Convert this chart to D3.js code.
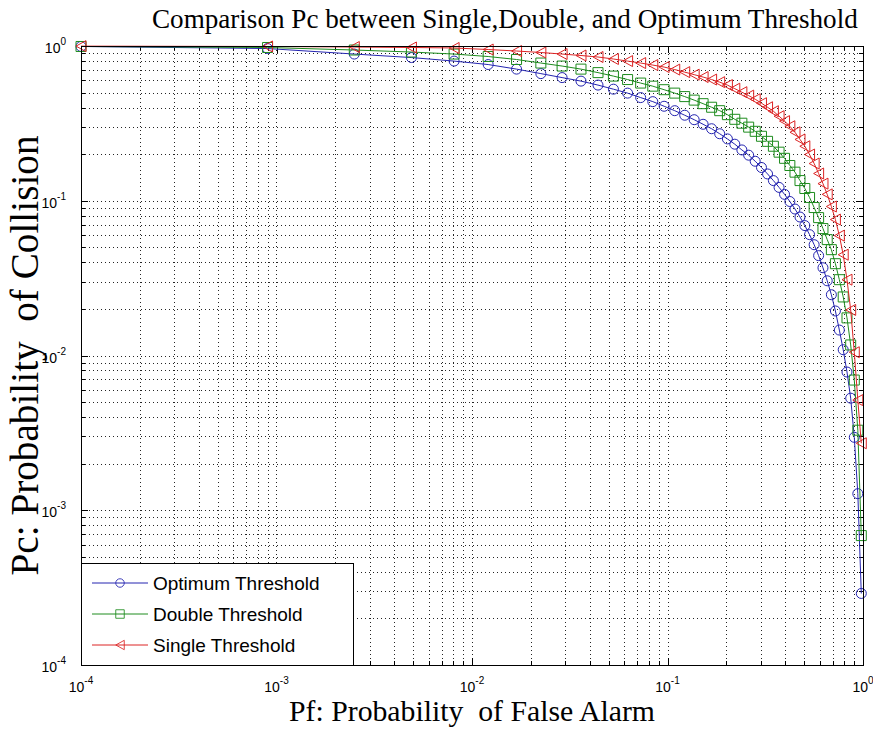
<!DOCTYPE html>
<meta charset="utf-8">
<style>
body { margin: 0; background: #fff; }
.axis line { stroke: #000; shape-rendering: crispEdges; }
.axis .domain { display: none; }
.grid line { stroke: #000; stroke-width: 1; stroke-dasharray: 1,3; shape-rendering: crispEdges; opacity: 0.85; }
.frame { fill: none; stroke: #000; stroke-width: 1; shape-rendering: crispEdges; }
.ticklab { font-family: "Liberation Sans", Arial, sans-serif; font-size: 14px; fill: #000; }
.legend text { font-family: "Liberation Sans", Arial, sans-serif; font-size: 19px; fill: #000; }
.label { font-family: "Liberation Serif", "DejaVu Serif", serif; fill: #000; white-space: pre; }
</style>
<svg class="chart"></svg>
<script src="https://d3js.org/d3.v7.min.js"></script>
<script>

// Pf values
var pf = [0.0001, 0.0009, 0.0025, 0.0049, 0.0081, 0.0121, 0.0169, 0.0225, 0.0289, 0.0361,
          0.0441, 0.0529, 0.0625, 0.0729, 0.0841, 0.0961, 0.1089, 0.1225, 0.1369, 0.1521,
          0.1681, 0.1849, 0.2025, 0.2209, 0.2401, 0.2601, 0.2809, 0.3025, 0.3249, 0.3481,
          0.3721, 0.3969, 0.4225, 0.4489, 0.4761, 0.5041, 0.5329, 0.5625, 0.5929, 0.6241,
          0.6561, 0.6889, 0.7225, 0.7569, 0.7921, 0.8281, 0.8649, 0.9025, 0.9409, 0.9801];

var pcOptimum = [0.993, 0.963, 0.887, 0.842, 0.799, 0.759, 0.709, 0.663, 0.625, 0.593,
                 0.559, 0.526, 0.496, 0.464, 0.437, 0.408, 0.382, 0.357, 0.334, 0.312,
                 0.292, 0.271, 0.251, 0.232, 0.213, 0.197, 0.180, 0.164, 0.149, 0.135,
                 0.122, 0.110, 0.0989, 0.0884, 0.0785, 0.0691, 0.0604, 0.0520, 0.0442, 0.0369,
                 0.0304, 0.0247, 0.0194, 0.0146, 0.0109, 0.00782, 0.00530, 0.00296, 0.00128, 0.00029];

var pcDouble = [0.993, 0.978, 0.942, 0.914, 0.887, 0.855, 0.818, 0.776, 0.742, 0.709,
                0.673, 0.639, 0.607, 0.576, 0.550, 0.522, 0.496, 0.471, 0.447, 0.424,
                0.402, 0.382, 0.360, 0.336, 0.317, 0.299, 0.281, 0.261, 0.242, 0.225,
                0.206, 0.188, 0.169, 0.153, 0.135, 0.120, 0.105, 0.0904, 0.0778, 0.0661,
                0.0561, 0.0483, 0.0392, 0.0309, 0.0239, 0.0175, 0.0117, 0.00694, 0.00329, 0.000686];

var pcSingle = [0.998, 0.993, 0.985, 0.978, 0.971, 0.949, 0.928, 0.908, 0.887, 0.868,
                0.849, 0.824, 0.799, 0.776, 0.753, 0.731, 0.704, 0.678, 0.653, 0.630,
                0.607, 0.584, 0.559, 0.530, 0.503, 0.478, 0.453, 0.427, 0.402, 0.379,
                0.352, 0.327, 0.303, 0.277, 0.249, 0.225, 0.199, 0.174, 0.150, 0.129,
                0.110, 0.0918, 0.0756, 0.0595, 0.0448, 0.0309, 0.0197, 0.0105, 0.00515, 0.00271];

var seriesNames = ["Optimum Threshold", "Double Threshold", "Single Threshold"];
var tickExponents = [-4, -3, -2, -1, 0];

var titleText = "Comparison Pc between Single,Double, and Optimum Threshold";
var xLabelText = "Pf: Probability  of False Alarm";
var yLabelText = "Pc: Probability  of Collision";

var margin = {top: 46, right: 10, bottom: 68, left: 81},
    width = 873 - margin.left - margin.right,
    height = 733 - margin.top - margin.bottom;

var svg = d3.select(".chart").attr("width", 873).attr("height", 733);
svg.append("rect").attr("width", 873).attr("height", 733).attr("fill", "#fff");

var chart = svg.append("g")
    .attr("transform", "translate(" + margin.left + "," + margin.top + ")");

var x = d3.scaleLog().domain([1e-4, 1]).range([0, width]);
var y = d3.scaleLog().domain([1e-4, 1]).range([height, 0]);

var allTicks = x.ticks();
var majorTicks = tickExponents.map(function(e) { return Math.pow(10, e); });
var minorTicks = allTicks.filter(function(d) {
  var l = Math.log10(d);
  return Math.abs(l - Math.round(l)) > 1e-6;
});
var innerTicks = allTicks.filter(function(d) { return d > 1.001e-4 && d < 0.999; });

// dotted grid on every decade and sub-decade
var grid = chart.append("g").attr("class", "grid");
grid.selectAll(".gx").data(innerTicks).enter().append("line")
    .attr("x1", function(d) { return Math.round(x(d)) + 0.5; })
    .attr("x2", function(d) { return Math.round(x(d)) + 0.5; })
    .attr("y1", 0).attr("y2", height);
grid.selectAll(".gy").data(innerTicks).enter().append("line")
    .attr("y1", function(d) { return Math.round(y(d)) + 0.5; })
    .attr("y2", function(d) { return Math.round(y(d)) + 0.5; })
    .attr("x1", 0).attr("x2", width);

// inward ticks on all four sides
function addTicks(axisFn, scale, vals, len, tr) {
  chart.append("g").attr("class", "axis").attr("transform", tr)
      .call(axisFn(scale).tickValues(vals).tickSize(-len).tickFormat(""));
}
addTicks(d3.axisBottom, x, majorTicks, 7, "translate(0," + height + ")");
addTicks(d3.axisBottom, x, minorTicks, 4, "translate(0," + height + ")");
addTicks(d3.axisTop, x, majorTicks, 7, "translate(0,0)");
addTicks(d3.axisTop, x, minorTicks, 4, "translate(0,0)");
addTicks(d3.axisLeft, y, majorTicks, 7, "translate(0,0)");
addTicks(d3.axisLeft, y, minorTicks, 4, "translate(0,0)");
addTicks(d3.axisRight, y, majorTicks, 7, "translate(" + width + ",0)");
addTicks(d3.axisRight, y, minorTicks, 4, "translate(" + width + ",0)");

// tick labels 10^n
var xl = chart.append("g").selectAll("text").data(majorTicks).enter().append("text")
    .attr("class", "ticklab")
    .attr("x", function(d) { return x(d); })
    .attr("y", height + 27)
    .attr("text-anchor", "middle");
xl.append("tspan").text("10");
xl.append("tspan").attr("dy", -8).attr("font-size", "10px")
    .text(function(d) { return Math.round(Math.log10(d)); });

var yl = chart.append("g").selectAll("text").data(majorTicks).enter().append("text")
    .attr("class", "ticklab")
    .attr("x", -15)
    .attr("y", function(d) { return y(d) + 7; })
    .attr("text-anchor", "end");
yl.append("tspan").text("10");
yl.append("tspan").attr("dy", -8).attr("font-size", "10px")
    .text(function(d) { return Math.round(Math.log10(d)); });

// curves
var series = [
  {name: seriesNames[0], values: pcOptimum, color: "#2424b0", marker: "circle"},
  {name: seriesNames[1], values: pcDouble, color: "#1e8c1e", marker: "square"},
  {name: seriesNames[2], values: pcSingle, color: "#dc2424", marker: "tri"}
];

function markerPath(type) {
  if (type === "circle") return "M5,0A5,5 0 1,1 -5,0A5,5 0 1,1 5,0Z";
  if (type === "square") return "M-5,-5H5V5H-5Z";
  return "M-5,0L5,-5.5L5,5.5Z";
}

var line = d3.line()
    .x(function(d) { return x(d[0]); })
    .y(function(d) { return y(d[1]); });

var plot = chart.append("g");
series.forEach(function(s) {
  var pts = pf.map(function(p, i) { return [p, s.values[i]]; });
  plot.append("path").datum(pts)
      .attr("d", line)
      .attr("fill", "none").attr("stroke", s.color).attr("stroke-width", 1);
  plot.selectAll(".m-" + s.marker).data(pts).enter().append("path")
      .attr("class", "m-" + s.marker)
      .attr("transform", function(d) { return "translate(" + x(d[0]) + "," + y(d[1]) + ")"; })
      .attr("d", markerPath(s.marker))
      .attr("fill", "none").attr("stroke", s.color).attr("stroke-width", 1);
});

// legend in the lower left corner
var legend = chart.append("g").attr("class", "legend")
    .attr("transform", "translate(0," + (height - 102) + ")");
legend.append("rect").attr("width", 272).attr("height", 102)
    .attr("fill", "#fff").attr("stroke", "#000").attr("shape-rendering", "crispEdges");
var item = legend.selectAll(".item").data(series).enter().append("g")
    .attr("transform", function(d, i) { return "translate(0," + (20 + i * 31) + ")"; });
item.append("line").attr("x1", 11).attr("x2", 67)
    .attr("stroke", function(d) { return d.color; });
item.append("path").attr("transform", "translate(39,0) scale(0.85)")
    .attr("d", function(d) { return markerPath(d.marker); })
    .attr("fill", "none").attr("stroke", function(d) { return d.color; });
item.append("text").attr("x", 72).attr("dy", "0.36em").text(function(d) { return d.name; });

chart.append("rect").attr("class", "frame").attr("width", width).attr("height", height);

// title and axis labels
function fitWidth(sel, target) {
  var w = sel.node().getComputedTextLength();
  var fs = parseFloat(sel.attr("font-size"));
  sel.attr("font-size", (fs * target / w).toFixed(2) + "px");
}

var title = svg.append("text").attr("class", "label")
    .attr("x", 152).attr("y", 28).attr("font-size", "24px").text(titleText);
fitWidth(title, 706);

var xLab = svg.append("text").attr("class", "label")
    .attr("x", margin.left + width / 2).attr("y", 721)
    .attr("text-anchor", "middle").attr("font-size", "22px").text(xLabelText);
fitWidth(xLab, 366);

var yLab = svg.append("text").attr("class", "label")
    .attr("transform", "translate(38," + (margin.top + height / 2) + ") rotate(-90)")
    .attr("text-anchor", "middle").attr("font-size", "26px")
    .text(yLabelText);
fitWidth(yLab, 440);

</script>
